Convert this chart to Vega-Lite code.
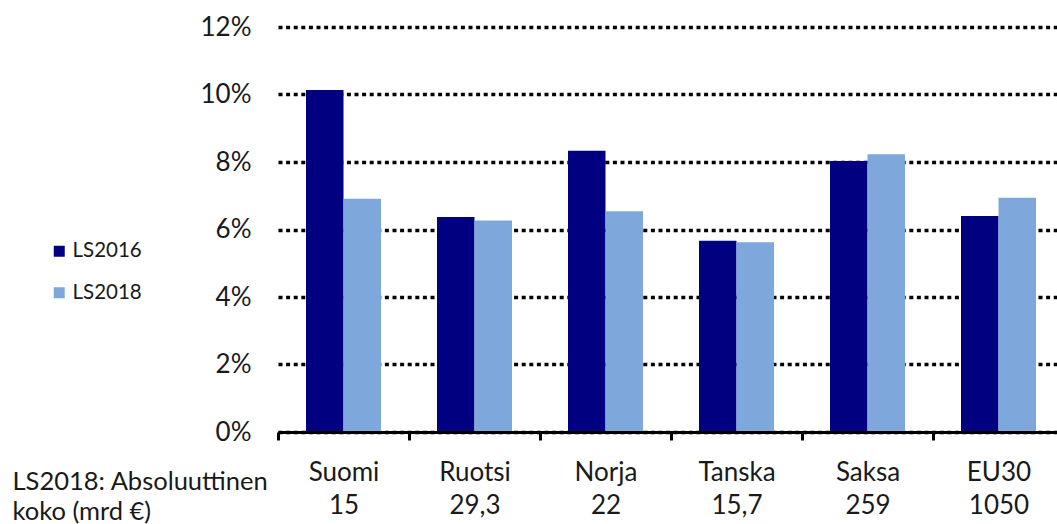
{
  "$schema": "https://vega.github.io/schema/vega-lite/v6.json",
  "width": 779,
  "height": 405,
  "autosize": {"type": "none"},
  "padding": {"left": 278, "top": 27, "right": 0, "bottom": 92},
  "background": "white",
  "data": {
    "values": [
      {"maa": "Suomi", "koko": "15", "sarja": "LS2016", "osuus": 0.1013},
      {"maa": "Suomi", "koko": "15", "sarja": "LS2018", "osuus": 0.0691},
      {"maa": "Ruotsi", "koko": "29,3", "sarja": "LS2016", "osuus": 0.0637},
      {"maa": "Ruotsi", "koko": "29,3", "sarja": "LS2018", "osuus": 0.0627},
      {"maa": "Norja", "koko": "22", "sarja": "LS2016", "osuus": 0.0833},
      {"maa": "Norja", "koko": "22", "sarja": "LS2018", "osuus": 0.0654},
      {"maa": "Tanska", "koko": "15,7", "sarja": "LS2016", "osuus": 0.0567},
      {"maa": "Tanska", "koko": "15,7", "sarja": "LS2018", "osuus": 0.0562},
      {"maa": "Saksa", "koko": "259", "sarja": "LS2016", "osuus": 0.0803},
      {"maa": "Saksa", "koko": "259", "sarja": "LS2018", "osuus": 0.0823},
      {"maa": "EU30", "koko": "1050", "sarja": "LS2016", "osuus": 0.064},
      {"maa": "EU30", "koko": "1050", "sarja": "LS2018", "osuus": 0.0694}
    ]
  },
  "mark": {"type": "bar"},
  "encoding": {
    "x": {
      "field": "maa",
      "type": "nominal",
      "sort": null,
      "scale": {"range": [0, 786], "paddingInner": 0, "paddingOuter": 0},
      "axis": {
        "title": ["LS2018: Absoluuttinen", "koko (mrd €)"],
        "titleX": -266,
        "titleY": 57,
        "titleAlign": "left",
        "titleAnchor": "start",
        "titleBaseline": "alphabetic",
        "titleLineHeight": 30,
        "titleFont": "Lato",
        "titleFontSize": 25.5,
        "titleFontWeight": "normal",
        "titleColor": "#1a1a1a",
        "labelExpr": "[datum.value, {'Suomi':'15','Ruotsi':'29,3','Norja':'22','Tanska':'15,7','Saksa':'259','EU30':'1050'}[datum.value]]",
        "labelAngle": 0,
        "labelFont": "Lato",
        "labelFontSize": 26,
        "labelColor": "#1a1a1a",
        "labelLineHeight": 32.5,
        "labelPadding": 19.5,
        "tickBand": "extent",
        "ticks": true,
        "tickSize": 8,
        "tickWidth": 3,
        "tickColor": "#000",
        "domainColor": "#000",
        "domainWidth": 3,
        "grid": false,
        "zindex": 1
      }
    },
    "xOffset": {
      "field": "sarja",
      "type": "nominal",
      "scale": {"paddingInner": 0, "paddingOuter": 0.7467}
    },
    "y": {
      "field": "osuus",
      "type": "quantitative",
      "scale": {"domain": [0, 0.12], "nice": false},
      "axis": {
        "title": null,
        "format": ".0%",
        "values": [0, 0.02, 0.04, 0.06, 0.08, 0.1, 0.12],
        "domain": false,
        "ticks": false,
        "labelPadding": 27,
        "labelFont": "Lato",
        "labelFontSize": 26,
        "labelColor": "#1a1a1a",
        "grid": true,
        "gridColor": "#000",
        "gridWidth": 3.5,
        "gridDash": [4, 3.6],
        "gridOpacity": 1
      }
    },
    "color": {
      "field": "sarja",
      "type": "nominal",
      "scale": {"domain": ["LS2016", "LS2018"], "range": ["#000080", "#7EA7DC"]},
      "legend": {
        "title": null,
        "orient": "none",
        "legendX": -229,
        "legendY": 214,
        "padding": 0,
        "symbolType": "square",
        "symbolSize": 121,
        "symbolStrokeWidth": 0,
        "symbolOpacity": 1,
        "labelFont": "Lato",
        "labelFontSize": 20.5,
        "labelColor": "#1a1a1a",
        "labelOffset": 3,
        "rowPadding": 20.5
      }
    }
  },
  "config": {"view": {"stroke": null}}
}
